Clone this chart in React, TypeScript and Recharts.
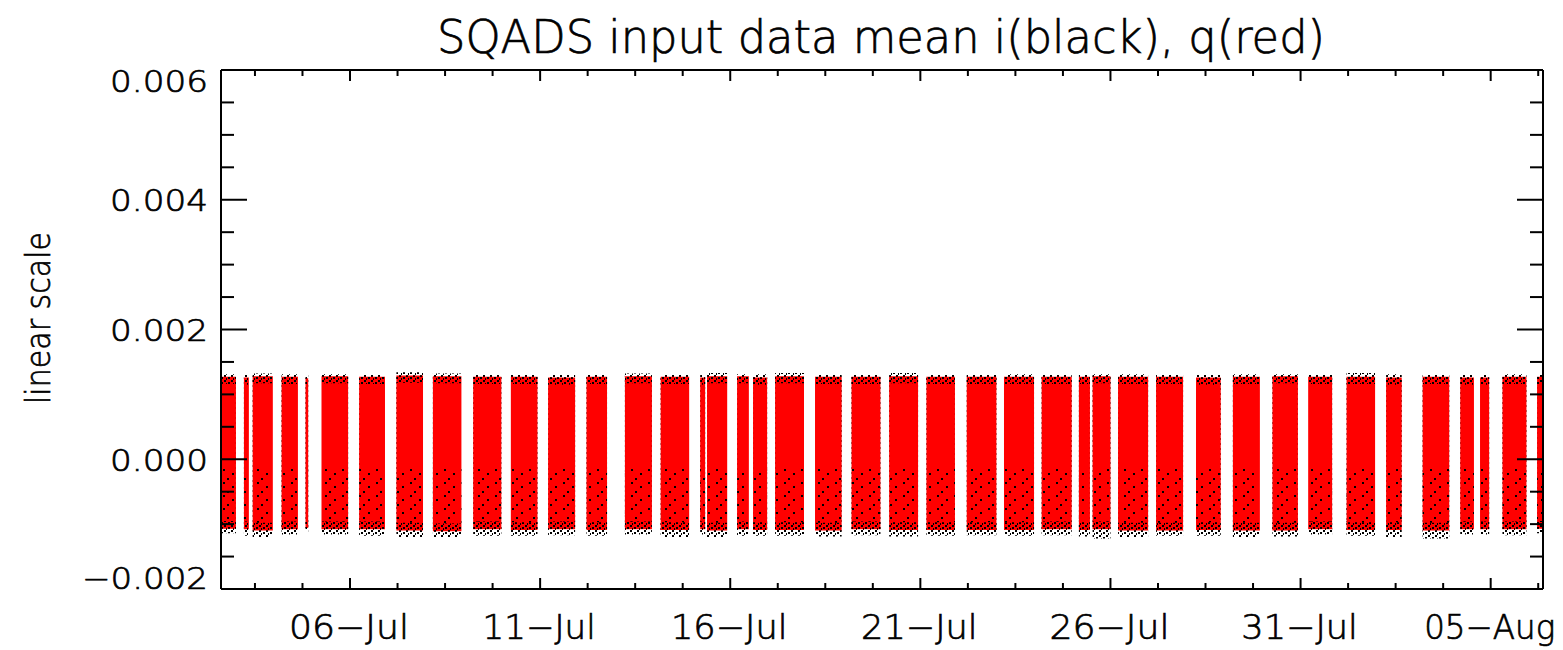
import React from 'react';
import { ComposedChart, Area, XAxis, YAxis } from 'recharts';

// segments of data, time in days of July (32 = 01-Aug)
const segStart = [2.55, 3.21, 3.44, 4.2, 4.83, 5.25, 6.24, 7.22, 8.18, 9.24, 10.23, 11.21, 12.22, 13.23, 14.17, 15.21, 15.39, 16.18, 16.6, 17.18, 18.23, 19.19, 20.18, 21.16, 22.22, 23.2, 24.19, 25.17, 25.53, 26.2, 27.2, 28.25, 29.22, 30.26, 31.2, 32.21, 33.25, 34.21, 35.2, 35.72, 36.31, 37.22];
const segEnd = [3.0, 3.34, 3.97, 4.63, 4.9, 5.95, 6.92, 7.92, 8.93, 9.98, 10.93, 11.92, 12.76, 13.94, 14.92, 15.34, 15.92, 16.49, 16.97, 17.94, 18.93, 19.95, 20.94, 21.91, 23.0, 23.99, 24.98, 25.46, 26.0, 26.99, 27.91, 28.9, 29.93, 30.93, 31.83, 32.96, 33.66, 34.91, 35.56, 35.96, 36.94, 37.6];

// q (red) range per segment
const qHi = [0.00127, 0.00126, 0.00128, 0.00127, 0.00125, 0.00128, 0.00127, 0.00129, 0.00128, 0.00127, 0.00127, 0.00126, 0.00127, 0.00128, 0.00127, 0.00126, 0.00128, 0.00128, 0.00126, 0.00128, 0.00127, 0.00127, 0.00128, 0.00127, 0.00127, 0.00127, 0.00127, 0.00127, 0.00128, 0.00127, 0.00127, 0.00126, 0.00127, 0.00128, 0.00127, 0.00127, 0.00126, 0.00127, 0.00126, 0.00126, 0.00127, 0.00127];
const qLo = [-0.00107, -0.00108, -0.0011, -0.00108, -0.00106, -0.00108, -0.00108, -0.0011, -0.00111, -0.00108, -0.00109, -0.00108, -0.00109, -0.00108, -0.00109, -0.00108, -0.0011, -0.00108, -0.00109, -0.00109, -0.0011, -0.00108, -0.00109, -0.00109, -0.00109, -0.00109, -0.00108, -0.00109, -0.00108, -0.0011, -0.0011, -0.00109, -0.0011, -0.0011, -0.00108, -0.00109, -0.00109, -0.0011, -0.00108, -0.00108, -0.00108, -0.00107];

// i (black) range per segment
const iHi = [0.00131, 0.0013, 0.00132, 0.00131, 0.0013, 0.00131, 0.0013, 0.00134, 0.00132, 0.0013, 0.0013, 0.0013, 0.0013, 0.00132, 0.0013, 0.0013, 0.00133, 0.00131, 0.00131, 0.00133, 0.0013, 0.0013, 0.00133, 0.0013, 0.0013, 0.00131, 0.0013, 0.0013, 0.00131, 0.00131, 0.0013, 0.0013, 0.00131, 0.00131, 0.0013, 0.00133, 0.00131, 0.0013, 0.0013, 0.0013, 0.00131, 0.0013];
const iLo = [-0.00114, -0.00118, -0.0012, -0.00116, -0.00112, -0.00116, -0.00118, -0.0012, -0.0012, -0.00118, -0.00118, -0.00117, -0.00118, -0.00116, -0.0012, -0.00116, -0.0012, -0.00118, -0.00118, -0.00118, -0.00119, -0.00117, -0.00119, -0.00118, -0.00117, -0.00118, -0.00117, -0.00119, -0.00122, -0.0012, -0.00118, -0.00118, -0.0012, -0.00119, -0.00116, -0.00118, -0.0012, -0.00122, -0.00116, -0.00116, -0.00117, -0.00114];

const xDomain = [2.607, 37.376];
const xTicks = Array.from({ length: 28 }, (_, k) => 3.5 + k * 1.25);
const yTicks = Array.from({ length: 17 }, (_, k) => -0.002 + k * 0.0005);

const FONT = '"DejaVu Sans", sans-serif';
const WEIGHT = 200;
const textInk = { fill: '#000', stroke: '#000', strokeWidth: 0.7 };

const rows: any[] = [];
segStart.forEach((s, k) => {
  const e = segEnd[k];
  const r = {
    q: [qLo[k], qHi[k]],
    i: [iLo[k], iHi[k]],
    iTop: [qHi[k] - 0.00011, qHi[k]],
    iBot: [qLo[k], qLo[k] + 0.00012],
    iMid: [qLo[k] + 0.00012, -0.00015]
  };
  rows.push({ t: s, ...r }, { t: e, ...r });
  if (k < segStart.length - 1) {
    rows.push({ t: (e + segStart[k + 1]) / 2, q: null, i: null, iTop: null, iBot: null, iMid: null });
  }
});

const dateLabel = (t: number) => {
  const d = t > 31 ? t - 31 : t;
  const m = t > 31 ? 'Aug' : 'Jul';
  return `${String(d).padStart(2, '0')}\u2212${m}`;
};

const isMajorX = (t: number) => Math.abs((t - 6) % 5) < 1e-6;
const isMajorY = (v: number) => Math.round(v / 0.0005) % 4 === 0;

const BottomTick = (props: any) => {
  const { x, y, payload } = props;
  const major = isMajorX(payload.value);
  const label = dateLabel(payload.value);
  const ones = (label.match(/1/g) || []).length;
  const len = 120 - 3.5 * ones + (label.endsWith('Aug') ? 11 : 0);
  return (
    <g>
      <line x1={x} y1={y} x2={x} y2={y - (major ? 11 : 6)} stroke="#000" strokeWidth={2} />
      {major && (
        <text x={x - 1} y={y + 50} textAnchor="middle" fontFamily={FONT} fontWeight={WEIGHT} fontSize={34}
          textLength={len} lengthAdjust="spacingAndGlyphs" {...textInk}>
          {label}
        </text>
      )}
    </g>
  );
};

const TopTick = (props: any) => {
  const { x, y, payload } = props;
  const major = isMajorX(payload.value);
  return <line x1={x} y1={y} x2={x} y2={y + (major ? 11 : 6)} stroke="#000" strokeWidth={2} />;
};

const LeftTick = (props: any) => {
  const { x, y, payload, index } = props;
  const v = payload.value;
  const major = isMajorY(v);
  let dy = 1;
  if (index === 0) dy = -11;
  if (index === yTicks.length - 1) dy = 11;
  const label = (v < -1e-9 ? '\u2212' : '') + Math.abs(v).toFixed(3);
  return (
    <g>
      <line x1={x} y1={y} x2={x + (major ? 26 : 13)} y2={y} stroke="#000" strokeWidth={2} />
      {major && (
        <text x={208} y={y + dy} textAnchor="end" dominantBaseline="central" fontFamily={FONT} fontWeight={WEIGHT}
          fontSize={30} textLength={label.length > 5 ? 126 : 98} lengthAdjust="spacingAndGlyphs" {...textInk}>
          {label}
        </text>
      )}
    </g>
  );
};

const RightTick = (props: any) => {
  const { x, y, payload } = props;
  const major = isMajorY(payload.value);
  return <line x1={x} y1={y} x2={x - (major ? 26 : 13)} y2={y} stroke="#000" strokeWidth={2} />;
};

const axisStroke = { stroke: '#000', strokeWidth: 2 };

const App: React.FC = () => {
  return (
    <div style={{ position: 'absolute', left: 0, top: 0, width: 1563, height: 650, background: '#fff' }}>
      <svg width={1563} height={650} style={{ position: 'absolute', left: 0, top: 0 }}>
        <text x={881} y={53} textAnchor="middle" fontFamily={FONT} fontWeight={WEIGHT} fontSize={46}
          textLength={888} lengthAdjust="spacingAndGlyphs" {...textInk}>
          SQADS input data mean i(black), q(red)
        </text>
        <text x={50} y={318} transform="rotate(-90, 50, 318)" textAnchor="middle" fontFamily={FONT}
          fontWeight={WEIGHT} fontSize={34} textLength={172} lengthAdjust="spacingAndGlyphs" {...textInk}>
          linear scale
        </text>
      </svg>
      <div style={{ position: 'absolute', left: 0, top: 0 }}>
        <ComposedChart width={1563} height={650} data={rows}
          margin={{ top: 69, right: 19, bottom: 60, left: 220 }}>
          <defs>
            <pattern id="dotsDense" width="7" height="5" patternUnits="userSpaceOnUse">
              <rect x="0" y="0" width="2" height="2" fill="#000" />
              <rect x="4" y="2" width="2" height="2" fill="#000" />
              <rect x="2" y="3" width="1" height="2" fill="#000" />
            </pattern>
            <pattern id="dotsSparse" width="17" height="13" patternUnits="userSpaceOnUse">
              <rect x="2" y="1" width="2" height="2" fill="#000" />
              <rect x="11" y="5" width="2" height="2" fill="#000" />
              <rect x="6" y="10" width="2" height="2" fill="#000" />
            </pattern>
          </defs>
          <XAxis dataKey="t" type="number" domain={xDomain} allowDataOverflow ticks={xTicks} interval={0}
            height={1} tickSize={0} tickMargin={0} tickLine={false} tick={<BottomTick />}
            axisLine={axisStroke} />
          <XAxis xAxisId="top" orientation="top" dataKey="t" type="number" domain={xDomain} allowDataOverflow
            ticks={xTicks} interval={0} height={1} tickSize={0} tickMargin={0} tickLine={false} tick={<TopTick />}
            axisLine={axisStroke} />
          <YAxis type="number" domain={[-0.002, 0.006]} allowDataOverflow ticks={yTicks} interval={0}
            width={1} tickSize={0} tickMargin={0} tickLine={false} tick={<LeftTick />}
            axisLine={axisStroke} />
          <YAxis yAxisId="right" orientation="right" type="number" domain={[-0.002, 0.006]} allowDataOverflow
            ticks={yTicks} interval={0} width={1} tickSize={0} tickMargin={0} tickLine={false} tick={<RightTick />}
            axisLine={axisStroke} />
          <Area dataKey="i" type="linear" stroke="none" fill="url(#dotsDense)" fillOpacity={1}
            isAnimationActive={false} dot={false} activeDot={false} />
          <Area dataKey="q" type="linear" stroke="none" fill="#ff0000" fillOpacity={1}
            isAnimationActive={false} dot={false} activeDot={false} />
          <Area dataKey="iTop" type="linear" stroke="none" fill="url(#dotsDense)" fillOpacity={1}
            isAnimationActive={false} dot={false} activeDot={false} />
          <Area dataKey="iBot" type="linear" stroke="none" fill="url(#dotsDense)" fillOpacity={1}
            isAnimationActive={false} dot={false} activeDot={false} />
          <Area dataKey="iMid" type="linear" stroke="none" fill="url(#dotsSparse)" fillOpacity={1}
            isAnimationActive={false} dot={false} activeDot={false} />
        </ComposedChart>
      </div>
    </div>
  );
};

export default App;
